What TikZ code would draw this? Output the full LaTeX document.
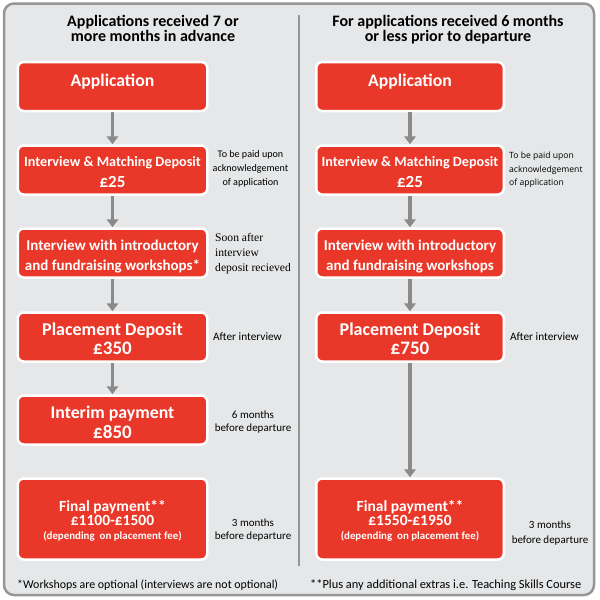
\documentclass[tikz,border=0pt]{standalone}
\usepackage{fontspec}
\setmainfont{Carlito}
\newfontfamily\osans{Open Sans}
\newfontfamily\tserif{Liberation Serif}
\usetikzlibrary{arrows.meta}
\definecolor{boxred}{RGB}{233,56,41}
\definecolor{panelbg}{RGB}{230,231,232}
\definecolor{panelline}{RGB}{150,150,152}
\definecolor{arrowgray}{RGB}{138,138,138}
\definecolor{divgray}{RGB}{150,150,150}
\newcommand{\fsz}[2]{\fontsize{#1}{#2}\selectfont}
\begin{document}
\begin{tikzpicture}[x=1pt,y=-1pt,
  redbox/.style={rectangle, rounded corners=6pt, fill=boxred, draw=white, line width=2.5pt, inner sep=0pt, minimum height=49pt},
  lbox/.style={redbox, minimum width=189.5pt},
  rbox/.style={redbox, minimum width=187.5pt},
  boxtext/.style={text=white, align=center, inner sep=0pt},
  flow/.style={draw=arrowgray, line width=3.5pt, -{Triangle[width=11.5pt,length=8pt]}},
  note/.style={inner sep=0pt, text=black},
  title/.style={inner sep=0pt, align=center, font=\fsz{16}{15}\bfseries}
]
\lineskiplimit=-50pt
\useasboundingbox (0,0) rectangle (600,600);
\draw[panelline, line width=2.5pt, fill=panelbg, rounded corners=10pt] (4,3.5) rectangle (594,595);
\draw[divgray, line width=2pt] (299,15) -- (299,566);

% titles
\node[title] (tl) at (153,28.5) {Applications received 7 or\\more months in advance};
\node[title] (tr) at (448,30) {For applications received 6 months\\or less prior to departure};

% left column
\node[lbox] (l1) at (112.5,86.5) {};
\node[lbox] (l2) at (112.5,170) {};
\node[lbox] (l3) at (112.5,253) {};
\node[lbox] (l4) at (112.5,337) {};
\node[lbox] (l5) at (112.5,420) {};
\node[lbox, minimum height=81pt] (l6) at (112.5,519) {};
\node[boxtext, font=\fsz{17.7}{20}\bfseries] (l1t) at (112.5,81.3) {Application};
\node[boxtext, font=\fsz{14.2}{21}\bfseries] (l2t) at (112.5,172) {Interview \& Matching Deposit\\{\fsz{17}{21}£25}};
\node[boxtext, font=\fsz{15}{20}\bfseries] (l3t) at (112.5,257) {Interview with introductory\\and fundraising workshops*};
\node[boxtext, font=\fsz{18}{18.5}\bfseries] (l4t) at (112.5,338.6) {Placement Deposit\\{\fsz{19}{18.5}£350}};
\node[boxtext, font=\fsz{17.8}{20}\bfseries] (l5t) at (112.5,422.6) {Interim payment\\{\fsz{19}{20}£850}};
\node[boxtext, font=\fsz{15.5}{14}\bfseries] (l6t) at (112.5,521) {Final payment**\\£1100-£1500\\{\fsz{10.9}{14}(depending~ on placement fee)}};

% right column
\node[rbox] (r1) at (410,86.5) {};
\node[rbox] (r2) at (410,170) {};
\node[rbox] (r3) at (410,253) {};
\node[rbox] (r4) at (410,337) {};
\node[rbox, minimum height=81pt] (r6) at (410,519) {};
\node[boxtext, font=\fsz{17.7}{20}\bfseries] (r1t) at (410,81.3) {Application};
\node[boxtext, font=\fsz{14.2}{21}\bfseries] (r2t) at (410,172) {Interview \& Matching Deposit\\{\fsz{17}{21}£25}};
\node[boxtext, font=\fsz{15}{20}\bfseries] (r3t) at (410,257) {Interview with introductory\\and fundraising workshops};
\node[boxtext, font=\fsz{18}{18.5}\bfseries] (r4t) at (410,338.6) {Placement Deposit\\{\fsz{19}{18.5}£750}};
\node[boxtext, font=\fsz{15.5}{14}\bfseries] (r6t) at (410,521) {Final payment**\\£1550-£1950\\{\fsz{10.9}{14}(depending~ on placement fee)}};

% connectors
\draw[flow] (l1) -- (l2);
\draw[flow] (l2) -- (l3);
\draw[flow] (l3) -- (l4);
\draw[flow] (l4) -- (l5);
\draw[flow] (r1) -- (r2);
\draw[flow] (r2) -- (r3);
\draw[flow] (r3) -- (r4);
\draw[flow] (r4) -- (r6);

% side notes left
\node[note, align=center, font=\fsz{10.1}{13.75}] (n1) at (250.5,168.8) {To be paid upon\\acknowledgement\\of application};
\node[note, align=left, anchor=west, font=\tserif\fsz{11.6}{15}] (n2) at (215,253.3) {Soon after\\interview\\deposit recieved};
\node[note, anchor=west, font=\fsz{11.3}{13}] (n3) at (213,336.4) {After interview};
\node[note, align=center, font=\fsz{11}{13}] (n4) at (253,422.3) {6 months\\before departure};
\node[note, align=center, font=\fsz{11}{13.4}] (n5) at (253,530) {3 months\\before departure};

% side notes right
\node[note, align=left, anchor=west, font=\osans\fsz{8.6}{13.5}] (m1) at (509,169.8) {To be paid upon\\acknowledgement\\of application};
\node[note, anchor=west, font=\fsz{11.3}{13}] (m3) at (510,336.4) {After interview};
\node[note, align=center, font=\fsz{11}{15}] (m5) at (550,533) {3 months\\before departure};

% footnotes
\node[note, anchor=west, font=\fsz{11.9}{13}] (f1) at (17,585) {*Workshops are optional (interviews are not optional)};
\node[note, anchor=west, font=\fsz{12.4}{13}] (f2) at (310,585) {**Plus any additional extras i.e. Teaching Skills Course};
\end{tikzpicture}
\end{document}
